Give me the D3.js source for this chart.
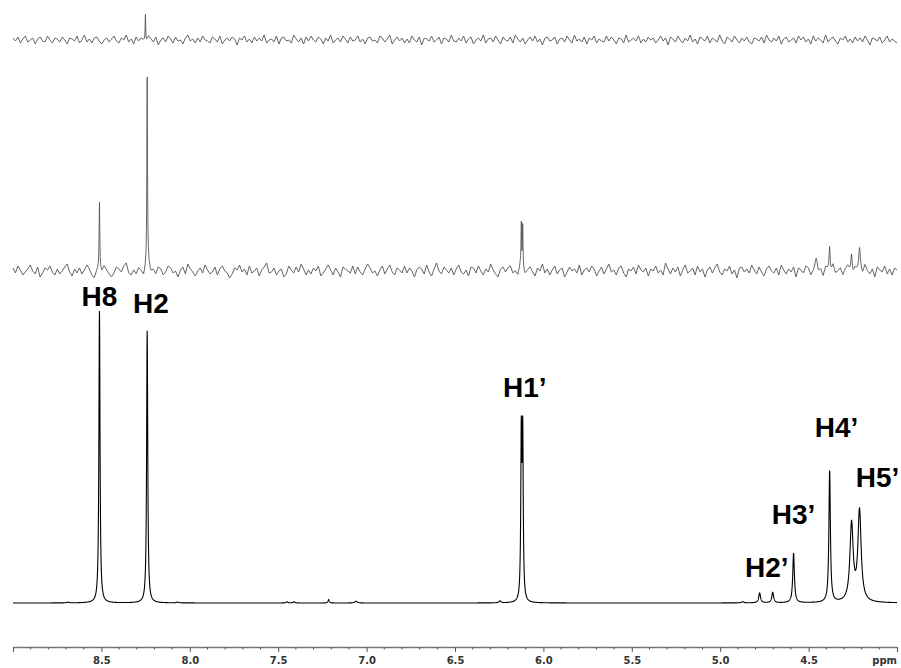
<!DOCTYPE html>
<html>
<head>
<meta charset="utf-8">
<script src="https://cdn.jsdelivr.net/npm/d3@7"></script>
<style>
  body { margin: 0; background: #fff; }
  svg { display: block; }
  .lbl { font-family: "Liberation Sans", Arial, sans-serif; font-weight: bold; font-size: 28px; fill: #000; }
  .axis text { font-family: "DejaVu Sans", sans-serif; font-weight: bold; font-size: 10px; fill: #333; }
</style>
</head>
<body>
<svg></svg>
<script>
var width = 901, height = 668;

// axis tick labels (ppm)
var majorTicks = [9.0, 8.5, 8.0, 7.5, 7.0, 6.5, 6.0, 5.5, 5.0, 4.5, 4.0];

// bottom 1D spectrum: peak list (ppm, height, half-width in ppm)
var bottomPpm   = [8.511, 8.241, 6.125, 6.117, 4.777, 4.703, 4.585, 4.381, 4.257, 4.212, 8.69, 8.07, 7.45, 7.41, 7.215, 7.06, 6.246, 4.873];
var bottomH     = [100,   93.2,  55.3,  55.3,  3.4,   3.6,   17.0,  45.0,  26.5,  31.0,  0.3,  0.3,  0.4,  0.4,  1.2,   0.6,  0.7,   0.4];
var bottomW     = [0.0038,0.0038,0.0035,0.0035,0.006, 0.006, 0.0055,0.005, 0.011, 0.011, 0.006,0.006,0.006,0.006,0.004, 0.008,0.006, 0.008];

// middle trace (selective spectrum): peaks, px-like units above its baseline
var midPpm = [8.511, 8.241, 6.125, 6.117, 4.455, 4.381, 4.257, 4.212];
var midH   = [66,    190,   43,    43,    8,     26,    20,    20];
var midW   = [0.0022,0.0022,0.002, 0.002, 0.006, 0.004, 0.005, 0.005];

// top trace: single spike
var topPpm = [8.251];
var topH   = [28];
var topW   = [0.002];

// baseline noise, left (9.0 ppm) to right (4.0 ppm)
var midNoise = [3,-2,5,1,-4,-1,2,6,0,-3,4,-6,-2,3,1,5,-1,-4,2,-3,
 0,4,7,-1,-5,2,-2,3,-3,1,6,2,-4,-7,0,3,-1,5,1,-3,
 -6,-2,4,2,-1,5,8,-2,-4,1,-3,3,0,-5,2,6,-1,1,-3,4,
 2,-4,-1,5,3,-2,0,-6,1,4,-3,7,2,-1,-5,0,3,-2,6,1,
 -3,-1,4,-4,2,5,0,-2,-7,-3,3,1,6,-1,2,-4,5,-2,0,3,
 -5,1,4,8,-2,-1,3,-4,0,2,-6,-3,5,1,-2,4,-1,7,2,-4,
 1,-3,3,0,5,-5,-2,2,6,1,-4,3,-1,-6,4,2,0,-2,5,-3,
 4,-1,-4,2,7,3,-2,0,-5,1,5,-3,2,6,-1,-4,3,1,-2,5,
 -2,3,0,-6,1,4,2,-3,6,-1,-5,2,8,0,-3,4,1,-2,3,-4,
 2,6,-1,-3,1,-5,4,3,-2,5,0,-4,2,-1,7,1,-3,-6,2,4,
 -1,3,5,-2,0,-4,6,2,-3,1,4,-1,-5,3,0,7,-2,2,-4,1,
 5,-3,1,3,-6,-1,4,0,2,-2,6,-4,1,3,-1,5,2,-5,0,4,
 -3,2,7,-1,1,-4,3,5,-2,-6,2,0,4,-3,6,1,-1,3,-5,2,
 0,5,-2,1,-4,8,2,-3,3,-1,4,-5,1,6,-2,0,3,-4,5,-1,
 2,-6,1,4,-2,3,7,-1,-4,2,0,5,-3,1,-7,3,4,-1,2,-2,
 6,1,-3,4,-1,-5,2,5,0,-2,3,-4,6,1,-3,2,-1,4,-6,3,
 1,-2,5,3,-4,0,7,-1,2,-5,4,1,-3,6,-2,0,3,-4,2,5,
 -1,-5,3,1,4,-2,6,0,-3,2,-6,4,1,-1,5,-3,2,-4,3,1];

var topNoise = [2,-1,3,-3,1,4,-2,0,2,-4,1,3,-1,-2,4,0,-3,2,1,-2,
 3,0,-4,2,1,-1,4,-3,0,5,-2,1,-3,2,3,-1,-4,0,2,-2,
 1,4,-1,-3,2,0,5,-2,1,-4,3,-1,2,0,-3,4,1,-2,3,-5,
 0,2,-2,4,1,-3,3,-1,0,-4,2,5,-1,1,-3,2,-2,4,0,-1,
 -3,3,1,-2,4,-4,0,2,-1,3,1,-5,2,0,4,-2,1,-3,3,-1,
 2,-1,5,-3,0,1,-2,4,-4,2,3,-1,0,-3,5,1,-2,2,-4,3,
 -1,4,0,-2,3,1,-4,2,-1,5,-3,0,2,-2,4,1,-3,3,-1,0,
 4,-2,1,-4,2,3,-1,0,-3,4,2,-2,1,5,-4,0,3,-1,2,-3,
 1,-3,4,0,-2,3,-5,2,1,-1,4,-2,0,3,-4,2,1,-2,5,-1,
 -2,2,-1,4,-3,1,3,-4,0,2,-1,5,-3,1,2,-2,4,0,-4,3,
 0,-1,3,-3,5,1,-2,2,-4,0,3,-1,4,-2,1,-5,2,3,-1,0,
 3,-4,1,2,-2,4,0,-3,5,-1,1,-2,3,-4,2,0,4,-3,1,-1,
 -2,4,-1,3,0,-4,2,1,-3,5,-2,0,2,-1,4,-3,1,-2,3,0,
 2,-3,0,4,-1,2,-5,3,1,-2,4,0,-3,2,-1,5,-2,1,-4,3,
 1,-1,4,-3,2,0,-2,5,-1,-4,3,1,-2,4,0,-3,2,-1,3,-2,
 -4,2,1,-1,3,-3,5,0,-2,2,-1,4,-4,1,3,-2,0,2,-3,4,
 0,3,-2,1,-4,4,-1,2,0,-3,5,-2,1,3,-1,-4,2,0,4,-2,
 1,-3,3,-1,2,-2,4,0,-5,2,1,-1,3,-3,0,4,-2,1,-1,-3];

// peak labels: text, ppm of label centre, level on bottom intensity scale
var labelText = ["H8", "H2", "H1\u2019", "H4\u2019", "H5\u2019", "H3\u2019", "H2\u2019"];
var labelPpm  = [8.511, 8.220, 6.105, 4.342, 4.110, 4.585, 4.737];
var labelLvl  = [101.7, 99.3, 70.5, 56.8, 39.7, 27.1, 8.9];

var svg = d3.select("svg").attr("width", width).attr("height", height);

var x = d3.scaleLinear().domain([9.0, 4.0]).range([13, 897]);
var yBottom = d3.scaleLinear().domain([0, 100]).range([603, 311]);
var yMid = d3.scaleLinear().domain([0, 200]).range([271, 71]);
var yTop = d3.scaleLinear().domain([0, 30]).range([40, 10]);

function lorentz(p, ppms, hs, ws) {
  var s = 0;
  for (var i = 0; i < ppms.length; i++) {
    var d = p - ppms[i];
    s += hs[i] * ws[i] * ws[i] / (d * d + ws[i] * ws[i]);
  }
  return s;
}

// bottom: sample finely
var bottomPts = d3.range(9.0, 3.9999, -0.0005).map(function(p) {
  return [p, lorentz(p, bottomPpm, bottomH, bottomW)];
});

// noisy traces: noise vertices plus extra vertices around each peak
function noisyTrace(noise, ppms, hs, ws) {
  var n = noise.length;
  var ppmAt = d3.scaleLinear().domain([0, n - 1]).range([9.0, 4.0]);
  var pts = noise.map(function(v, i) { return ppmAt(i); });
  var offs = [0, 0.5, 1, 1.5, 2, 3, 5, 8];
  ppms.forEach(function(c, k) {
    offs.forEach(function(o) { pts.push(c - o * ws[k]); pts.push(c + o * ws[k]); });
  });
  pts.sort(function(a, b) { return b - a; });
  return pts.map(function(p) {
    var fi = ppmAt.invert(p);
    var i0 = Math.max(0, Math.min(n - 2, Math.floor(fi)));
    var t = fi - i0;
    var base = noise[i0] * (1 - t) + noise[i0 + 1] * t;
    return [p, base + lorentz(p, ppms, hs, ws)];
  });
}

var midPts = noisyTrace(midNoise, midPpm, midH, midW);
var topPts = noisyTrace(topNoise, topPpm, topH, topW);

function lineFor(ys) {
  return d3.line().x(function(d) { return x(d[0]); }).y(function(d) { return ys(d[1]); });
}

svg.append("path").datum(topPts)
  .attr("d", lineFor(yTop))
  .attr("fill", "none").attr("stroke", "#555").attr("stroke-width", 0.9);

svg.append("path").datum(midPts)
  .attr("d", lineFor(yMid))
  .attr("fill", "none").attr("stroke", "#555").attr("stroke-width", 0.9);

svg.append("path").datum(bottomPts)
  .attr("d", lineFor(yBottom))
  .attr("fill", "none").attr("stroke", "#000").attr("stroke-width", 1.1);

// labels
svg.append("g").selectAll("text")
  .data(labelText)
  .enter().append("text")
  .attr("class", "lbl")
  .attr("text-anchor", "middle")
  .attr("x", function(d, i) { return x(labelPpm[i]); })
  .attr("y", function(d, i) { return yBottom(labelLvl[i]); })
  .text(function(d) { return d; });

// axis
var axisY = 647;
var axis = d3.axisBottom(x)
  .tickValues(majorTicks)
  .tickSize(5)
  .tickSizeOuter(0)
  .tickPadding(5)
  .tickFormat(function(d) { return (d === 9.0 || d === 4.0) ? "" : d3.format(".1f")(d); });

var gAxis = svg.append("g").attr("class", "axis")
  .attr("transform", "translate(0," + axisY + ")")
  .call(axis);
gAxis.select(".domain").attr("stroke", "#777").attr("stroke-width", 1.4);
gAxis.selectAll(".tick line").attr("stroke", "#555");

var minor = d3.range(90, 40, -1).map(function(v) { return v / 10; })
  .filter(function(v) { return Math.round(v * 10) % 5 !== 0; });
gAxis.append("g").selectAll("line")
  .data(minor)
  .enter().append("line")
  .attr("x1", function(d) { return x(d); })
  .attr("x2", function(d) { return x(d); })
  .attr("y1", 0).attr("y2", 2.5)
  .attr("stroke", "#555");

gAxis.append("text")
  .attr("x", x(4.0)).attr("y", 17)
  .attr("text-anchor", "end")
  .attr("fill", "#333")
  .text("ppm");
</script>
</body>
</html>
